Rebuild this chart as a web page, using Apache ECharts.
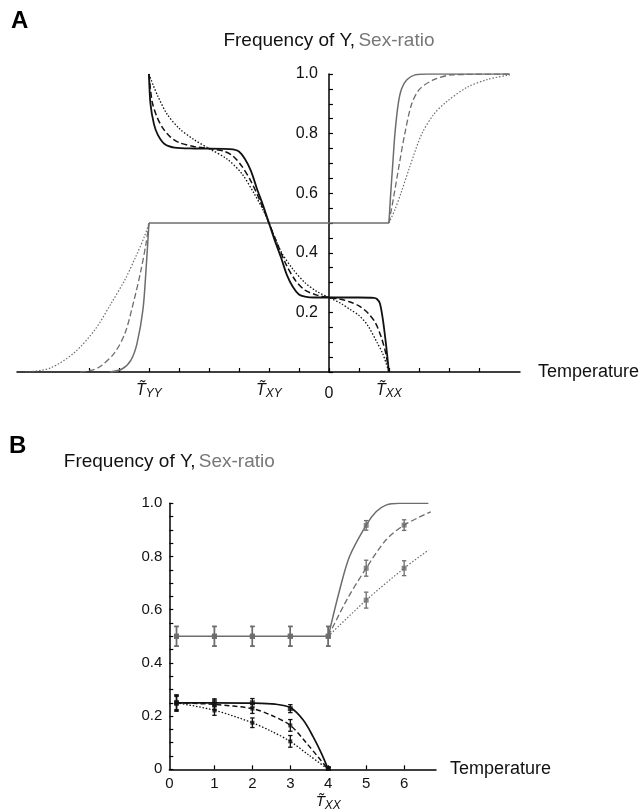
<!DOCTYPE html>
<html>
<head>
<meta charset="utf-8">
<title>Frequency of Y, Sex-ratio</title>
<script src="https://cdn.jsdelivr.net/npm/echarts@6/dist/echarts.min.js"></script>
<style>
  html, body { margin: 0; padding: 0; background: #fff; }
  #chart { width: 644px; height: 810px; }
</style>
</head>
<body>
<div id="chart"></div>
<script>
// ---- panel A : model curves, temperature in arbitrary units (0 on the y axis)
var aTicks = [-8, -7, -6, -5, -4, -3, -2, -1, 0, 1, 2, 3, 4, 5];
var aLabels = [-6, -2, 0, 2];
var aLabelSub = { '-6': 'YY', '-2': 'XY', '2': 'XX' };

// frequency of Y (black)
var freqA_solid = [[-6,1.0],[-5.95,0.9],[-5.83,0.83],[-5.7,0.795],[-5.48,0.765],[-5.15,0.753],[-4.5,0.75],[-3.5,0.749],
  [-3.2,0.747],[-3.0,0.74],[-2.8,0.715],[-2.6,0.675],[-2.4,0.615],[-2.2,0.56],[-2.0,0.5],[-1.8,0.44],[-1.6,0.385],
  [-1.4,0.325],[-1.2,0.285],[-1.0,0.26],[-0.8,0.253],[-0.5,0.25],[0,0.25],[1.0,0.25],[1.5,0.249],[1.6,0.245],
  [1.7,0.23],[1.8,0.175],[1.9,0.095],[2.0,0]];
var freqA_dashed = [[-6,1.0],[-5.9,0.91],[-5.75,0.86],[-5.55,0.82],[-5.3,0.79],[-5.0,0.77],[-4.5,0.757],[-4.0,0.75],
  [-3.5,0.741],[-3.2,0.725],[-2.9,0.69],[-2.6,0.64],[-2.3,0.575],[-2.0,0.5],[-1.7,0.425],[-1.4,0.355],[-1.1,0.305],
  [-0.8,0.275],[-0.4,0.258],[0,0.25],[0.4,0.244],[0.7,0.235],[1.0,0.222],[1.3,0.198],[1.55,0.165],[1.75,0.115],
  [1.9,0.06],[2.0,0]];
var freqA_dotted = [[-6,1.0],[-5.85,0.96],[-5.7,0.925],[-5.4,0.866],[-5.0,0.818],[-4.5,0.78],[-4.0,0.75],[-3.4,0.715],
  [-2.9,0.665],[-2.5,0.6],[-2.2,0.545],[-2.0,0.5],[-1.6,0.405],[-1.2,0.345],[-0.8,0.3],[-0.4,0.27],[0,0.25],
  [0.4,0.23],[0.7,0.21],[1.0,0.19],[1.3,0.155],[1.6,0.1],[1.8,0.06],[2.0,0]];

// sex-ratio (grey): rise to T_YY, flat, rise after T_XX
var sexA_flat = [[-6,0.5],[2,0.5]];
var sexA_solid_left = [[-7.3,0],[-6.9,0.01],[-6.6,0.04],[-6.4,0.095],[-6.2,0.21],[-6.1,0.34],[-6.0,0.5]];
var sexA_dashed_left = [[-8.3,0],[-7.9,0.006],[-7.6,0.02],[-7.15,0.064],[-6.8,0.13],[-6.5,0.24],[-6.27,0.34],[-6.1,0.43],[-6.0,0.5]];
var sexA_dotted_left = [[-10.1,0],[-9.3,0.013],[-8.5,0.064],[-7.8,0.142],[-7.25,0.232],[-6.8,0.31],[-6.45,0.385],[-6.15,0.455],[-6.0,0.5]];
var sexA_solid_right = [[2.0,0.5],[2.06,0.6],[2.13,0.7],[2.2,0.8],[2.31,0.9],[2.42,0.95],[2.59,0.98],[2.87,0.997],[3.3,1.0],[6.03,1.0]];
var sexA_dashed_right = [[2.0,0.5],[2.18,0.6],[2.35,0.7],[2.53,0.8],[2.76,0.9],[3.03,0.95],[3.48,0.98],[4.1,0.997],[6.03,1.0]];
var sexA_dotted_right = [[2.0,0.5],[2.2,0.545],[2.4,0.6],[2.7,0.69],[3.1,0.8],[3.5,0.865],[3.9,0.905],[4.6,0.955],[5.3,0.982],[6.03,0.997]];

// ---- panel B : simulations (points + error bars) and fitted curves
var bOrigin = -0.19;
var bTicks = [1, 2, 3, 4, 5, 6];
var bLabels = [bOrigin, 1, 2, 3, 4, 5, 6];

var freqB_x = [0, 1, 2, 3, 4];
var freqB_solid_y = [0.25, 0.25, 0.25, 0.228, 0.003];
var freqB_solid_err = [0.028, 0.015, 0.016, 0.015, 0.004];
var freqB_dashed_y = [0.252, 0.243, 0.228, 0.165, 0.003];
var freqB_dashed_err = [0.028, 0.018, 0.018, 0.022, 0.004];
var freqB_dotted_y = [0.246, 0.221, 0.175, 0.105, 0.003];
var freqB_dotted_err = [0.028, 0.018, 0.018, 0.022, 0.004];

var sexB_x = [0, 1, 2, 3, 4, 5, 6];
var sexB_solid_y = [0.5, 0.5, 0.5, 0.5, 0.5, 0.917];
var sexB_solid_err = [0.037, 0.037, 0.037, 0.037, 0.037, 0.018];
var sexB_dashed_y = [0.5, 0.5, 0.5, 0.5, 0.5, 0.756, 0.918];
var sexB_dashed_err = [0.037, 0.037, 0.037, 0.037, 0.037, 0.03, 0.02];
var sexB_dotted_y = [0.5, 0.5, 0.5, 0.5, 0.5, 0.636, 0.756];
var sexB_dotted_err = [0.037, 0.037, 0.037, 0.037, 0.037, 0.03, 0.028];

var freqB_solid_curve = [[0,0.25],[1,0.25],[2,0.249],[2.6,0.245],[3.0,0.232],[3.34,0.185],[3.6,0.123],[3.82,0.06],[4.0,0]];
var freqB_dashed_curve = [[0,0.25],[1,0.244],[2,0.228],[2.5,0.203],[3.0,0.165],[3.43,0.098],[3.74,0.045],[4.0,0]];
var freqB_dotted_curve = [[0,0.25],[1,0.222],[2,0.175],[2.5,0.143],[3.0,0.105],[3.5,0.052],[4.0,0]];
var sexB_flat = [[0,0.5],[4,0.5]];
var sexB_solid_curve = [[4,0.5],[4.3,0.674],[4.56,0.8],[5,0.918],[5.26,0.968],[5.52,0.993],[5.87,1.0],[6.64,1.0]];
var sexB_dashed_curve = [[4,0.5],[4.5,0.64],[5,0.756],[5.52,0.862],[6,0.918],[6.7,0.968]];
var sexB_dotted_curve = [[4,0.5],[5,0.636],[6,0.756],[6.64,0.824]];

var BLACK = '#111';
var GREY = '#6d6d6d';
var DASH = [6, 3];
var DOT = [1.5, 1.8];

function curve(data, grid, color, width, type, z) {
  return {
    type: 'line', data: data, xAxisIndex: grid, yAxisIndex: grid,
    smooth: 0.3, symbol: 'none', silent: true, z: z || 2,
    lineStyle: { color: color, width: width, type: type, cap: 'butt' }
  };
}

function points(xs, ys, color, size) {
  return {
    type: 'scatter', xAxisIndex: 1, yAxisIndex: 1, z: 5,
    symbol: 'rect', symbolSize: size, itemStyle: { color: color },
    data: ys.map(function (y, i) { return [xs[i], y]; })
  };
}

function errorBars(xs, ys, errs, color) {
  return {
    type: 'custom', xAxisIndex: 1, yAxisIndex: 1, z: 4,
    encode: { x: 0, y: [1, 2] },
    data: ys.map(function (y, i) { return [xs[i], y - errs[i], y + errs[i]]; }),
    renderItem: function (params, api) {
      var lo = api.coord([api.value(0), api.value(1)]);
      var hi = api.coord([api.value(0), api.value(2)]);
      var w = 2.2;
      var st = { stroke: color, lineWidth: 1.3 };
      return {
        type: 'group', children: [
          { type: 'line', shape: { x1: lo[0], y1: lo[1], x2: hi[0], y2: hi[1] }, style: st },
          { type: 'line', shape: { x1: lo[0] - w, y1: lo[1], x2: lo[0] + w, y2: lo[1] }, style: st },
          { type: 'line', shape: { x1: hi[0] - w, y1: hi[1], x2: hi[0] + w, y2: hi[1] }, style: st }
        ]
      };
    }
  };
}

var FONT = 'Liberation Sans';
var titleRich = {
  a: { color: '#111', fontSize: 19, fontFamily: FONT },
  b: { color: '#777', fontSize: 19, fontFamily: FONT }
};
var tickLabelStyle = { color: '#111', fontFamily: FONT };

// A: the y axis stands at temperature 0, i.e. 312 px right of the grid's left edge
var aGridLeft = 17, aGridWidth = 503, aXMin = -10.4, aXMax = 6.37;
var aAxisShift = -(0 - aXMin) / (aXMax - aXMin) * aGridWidth;

var chart = echarts.init(document.getElementById('chart'));
chart.setOption({
  animation: false,
  backgroundColor: '#fff',
  graphic: [
    { type: 'text', left: 11, top: 9, style: { text: 'A', font: 'bold 24px "Liberation Sans"', fill: '#000' } },
    { type: 'text', left: 9, top: 434, style: { text: 'B', font: 'bold 24px "Liberation Sans"', fill: '#000' } }
  ],
  grid: [
    { left: aGridLeft, top: 74, width: aGridWidth, height: 298, outerBoundsMode: 'none', containLabel: false },
    { left: 169.3, top: 503.3, width: 266.7, height: 266, outerBoundsMode: 'none', containLabel: false }
  ],
  xAxis: [
    {
      gridIndex: 0, type: 'value', min: aXMin, max: aXMax,
      splitLine: { show: false },
      axisLine: { lineStyle: { color: '#000', width: 1.5 } },
      axisTick: { inside: true, length: 4, customValues: aTicks, lineStyle: { color: '#000', width: 1.2 } },
      axisLabel: {
        customValues: aLabels, margin: 9, ...tickLabelStyle, fontSize: 16,
        formatter: function (v) {
          if (v === 0) return '{n|0}';
          return '{t|T̃}{s|' + aLabelSub[String(v)] + '}';
        },
        rich: {
          n: { fontSize: 16, fontFamily: FONT, color: '#111', padding: [5, 0, 0, 0] },
          t: { fontSize: 16, fontStyle: 'italic', fontFamily: FONT, color: '#111' },
          s: { fontSize: 12, fontStyle: 'italic', fontFamily: FONT, color: '#111', padding: [7, 0, 0, 0] }
        }
      },
      name: 'Temperature', nameLocation: 'end', nameGap: 18,
      nameTextStyle: { fontSize: 18, fontFamily: FONT, color: '#111' }
    },
    {
      gridIndex: 1, type: 'value', min: bOrigin, max: 6.84,
      splitLine: { show: false },
      axisLine: { lineStyle: { color: '#000', width: 1.5 } },
      axisTick: { inside: true, length: 4, customValues: bTicks, lineStyle: { color: '#000', width: 1.2 } },
      axisLabel: {
        customValues: bLabels, margin: 6, ...tickLabelStyle, fontSize: 15, lineHeight: 17,
        formatter: function (v) {
          if (v === bOrigin) return '0';
          if (v === 4) return '4\n{t|T̃}{s|XX}';
          return String(v);
        },
        rich: {
          t: { fontSize: 15, fontStyle: 'italic', fontFamily: FONT, color: '#111', padding: [3, 0, 0, 0] },
          s: { fontSize: 12, fontStyle: 'italic', fontFamily: FONT, color: '#111', padding: [9, 0, 0, 0] }
        }
      },
      name: 'Temperature', nameLocation: 'end', nameGap: 14,
      nameTextStyle: { fontSize: 18, fontFamily: FONT, color: '#111' }
    }
  ],
  yAxis: [
    {
      gridIndex: 0, type: 'value', min: 0, max: 1, interval: 0.2, offset: aAxisShift,
      splitLine: { show: false },
      axisLine: { onZero: false, lineStyle: { color: '#000', width: 1.5 } },
      axisTick: { inside: true, length: 4, lineStyle: { color: '#000', width: 1.2 } },
      minorTick: { show: true, splitNumber: 4, length: 4, lineStyle: { color: '#000', width: 1.2 } },
      axisLabel: {
        margin: 11, ...tickLabelStyle, fontSize: 16,
        formatter: function (v) { return v === 0 ? '' : v.toFixed(1); }
      },
      name: '{a|Frequency of Y,} {b|Sex-ratio}', nameLocation: 'end', nameGap: 24,
      nameTextStyle: { rich: titleRich }
    },
    {
      gridIndex: 1, type: 'value', min: 0, max: 1, interval: 0.2,
      splitLine: { show: false },
      axisLine: { onZero: false, lineStyle: { color: '#000', width: 1.5 } },
      axisTick: { inside: true, length: 4, lineStyle: { color: '#000', width: 1.2 } },
      minorTick: { show: true, splitNumber: 4, length: 4, lineStyle: { color: '#000', width: 1.2 } },
      axisLabel: {
        margin: 7, ...tickLabelStyle, fontSize: 15,
        formatter: function (v) { return v === 0 ? '0' : v.toFixed(1); }
      },
      name: '{a|Frequency of Y,} {b|Sex-ratio}', nameLocation: 'end', nameGap: 32,
      nameTextStyle: { rich: titleRich }
    }
  ],
  series: [
    // panel A, grey
    curve(sexA_flat, 0, GREY, 1.5, 'solid'),
    curve(sexA_solid_left, 0, GREY, 1.5, 'solid'),
    curve(sexA_dashed_left, 0, GREY, 1.3, DASH),
    curve(sexA_dotted_left, 0, GREY, 1.2, DOT),
    curve(sexA_solid_right, 0, GREY, 1.5, 'solid'),
    curve(sexA_dashed_right, 0, GREY, 1.3, DASH),
    curve(sexA_dotted_right, 0, GREY, 1.2, DOT),
    // panel A, black
    curve(freqA_solid, 0, BLACK, 1.8, 'solid', 3),
    curve(freqA_dashed, 0, BLACK, 1.5, DASH, 3),
    curve(freqA_dotted, 0, BLACK, 1.3, DOT, 3),
    // panel B curves
    curve(sexB_flat, 1, GREY, 1.5, 'solid'),
    curve(sexB_solid_curve, 1, GREY, 1.5, 'solid'),
    curve(sexB_dashed_curve, 1, GREY, 1.3, DASH),
    curve(sexB_dotted_curve, 1, GREY, 1.2, DOT),
    curve(freqB_solid_curve, 1, BLACK, 1.7, 'solid', 3),
    curve(freqB_dashed_curve, 1, BLACK, 1.5, [5, 3], 3),
    curve(freqB_dotted_curve, 1, BLACK, 1.3, DOT, 3),
    // panel B points and error bars
    errorBars(sexB_x, sexB_solid_y, sexB_solid_err, GREY),
    errorBars(sexB_x, sexB_dashed_y, sexB_dashed_err, GREY),
    errorBars(sexB_x, sexB_dotted_y, sexB_dotted_err, GREY),
    points(sexB_x, sexB_solid_y, GREY, 5),
    points(sexB_x, sexB_dashed_y, GREY, 5),
    points(sexB_x, sexB_dotted_y, GREY, 5),
    errorBars(freqB_x, freqB_solid_y, freqB_solid_err, BLACK),
    errorBars(freqB_x, freqB_dashed_y, freqB_dashed_err, BLACK),
    errorBars(freqB_x, freqB_dotted_y, freqB_dotted_err, BLACK),
    points(freqB_x, freqB_solid_y, BLACK, 5),
    points(freqB_x, freqB_dashed_y, BLACK, 4),
    points(freqB_x, freqB_dotted_y, BLACK, 4)
  ]
});
</script>
</body>
</html>
